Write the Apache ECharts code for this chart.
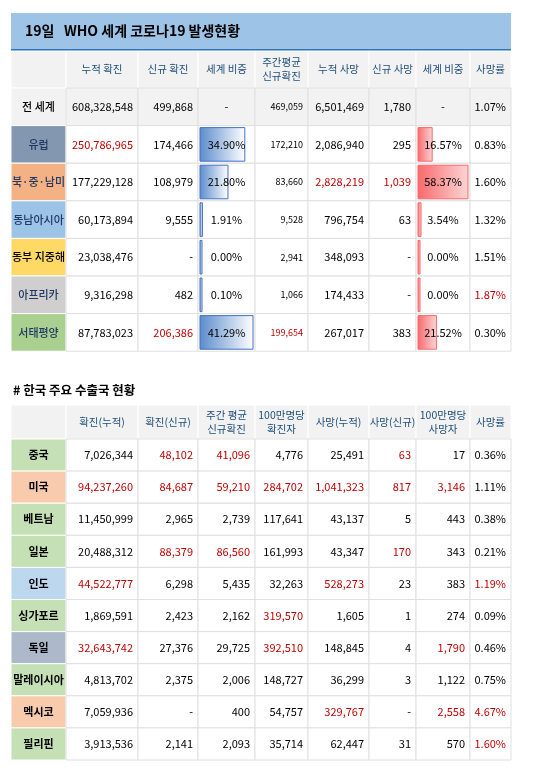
<!DOCTYPE html><html><head><meta charset="utf-8">
<script src="https://cdn.jsdelivr.net/npm/echarts@6/dist/echarts.min.js"></script>
<style>html,body{margin:0;padding:0;background:#fff}#c{width:550px;height:771px}</style></head><body><div id="c"></div>
<script>
// ---- Table 1 data ----
const title1 = "19일   WHO 세계 코로나19 발생현황";
const head1 = ["", "누적 확진", "신규 확진", "세계 비중", "주간평균\n신규확진", "누적 사망", "신규 사망", "세계 비중", "사망률"];
const regions = ["전 세계", "유럽", "북·중·남미", "동남아시아", "동부 지중해", "아프리카", "서태평양"];
const cumConf = ["608,328,548", "250,786,965", "177,229,128", "60,173,894", "23,038,476", "9,316,298", "87,783,023"];
const newConf = ["499,868", "174,466", "108,979", "9,555", "-", "482", "206,386"];
const confShare = ["-", "34.90%", "21.80%", "1.91%", "0.00%", "0.10%", "41.29%"];
const weeklyAvg = ["469,059", "172,210", "83,660", "9,528", "2,941", "1,066", "199,654"];
const cumDeath = ["6,501,469", "2,086,940", "2,828,219", "796,754", "348,093", "174,433", "267,017"];
const newDeath = ["1,780", "295", "1,039", "63", "-", "-", "383"];
const deathShare = ["-", "16.57%", "58.37%", "3.54%", "0.00%", "0.00%", "21.52%"];
const cfr1 = ["1.07%", "0.83%", "1.60%", "1.32%", "1.51%", "1.87%", "0.30%"];
const red1 = [[], [1], [5, 6], [], [], [8], [2, 4]];
// ---- Table 2 data ----
const title2 = "# 한국 주요 수출국 현황";
const head2 = ["", "확진(누적)", "확진(신규)", "주간 평균\n신규확진", "100만명당\n확진자", "사망(누적)", "사망(신규)", "100만명당\n사망자", "사망률"];
const countries = ["중국", "미국", "베트남", "일본", "인도", "싱가포르", "독일", "말레이시아", "멕시코", "필리핀"];
const c_cum = ["7,026,344", "94,237,260", "11,450,999", "20,488,312", "44,522,777", "1,869,591", "32,643,742", "4,813,702", "7,059,936", "3,913,536"];
const c_new = ["48,102", "84,687", "2,965", "88,379", "6,298", "2,423", "27,376", "2,375", "-", "2,141"];
const c_week = ["41,096", "59,210", "2,739", "86,560", "5,435", "2,162", "29,725", "2,006", "400", "2,093"];
const c_perM = ["4,776", "284,702", "117,641", "161,993", "32,263", "319,570", "392,510", "148,727", "54,757", "35,714"];
const c_death = ["25,491", "1,041,323", "43,137", "43,347", "528,273", "1,605", "148,845", "36,299", "329,767", "62,447"];
const c_dnew = ["63", "817", "5", "170", "23", "1", "4", "3", "-", "31"];
const c_dperM = ["17", "3,146", "443", "343", "383", "274", "1,790", "1,122", "2,558", "570"];
const c_cfr = ["0.36%", "1.11%", "0.38%", "0.21%", "1.19%", "0.09%", "0.46%", "0.75%", "4.67%", "1.60%"];
const red2 = [[2, 3, 6], [1, 2, 3, 4, 5, 6, 7], [], [2, 3, 6], [1, 5, 8], [4], [1, 4, 7], [], [5, 7, 8], [8]];

// ---- layout / style (not data) ----
const colEdges = [11, 66, 138, 198, 255, 308, 369, 416, 470, 511];
const regionFill = ["#f2f2f2", "#8497b0", "#f4b183", "#9dc3e6", "#ffd966", "#d0cece", "#a9d08e"];
const countryFill = ["#c5e0b4", "#f8cbad", "#c5e0b4", "#c5e0b4", "#bdd7ee", "#c5e0b4", "#adb9ca", "#c5e0b4", "#f8cbad", "#c5e0b4"];
const RED = "#c00000", HEAD = "#1f4e79", TXT = "#000";
const FONT = '"Noto Sans CJK KR", "Noto Sans", sans-serif';

const cells = [];
function add(c) { cells.push(c); }
add({ x0: 11, x1: 511, y0: 13, y1: 49, fill: "#9dc3e6", text: title1, color: "#000", size: 14, weight: "bold", align: "left", pad: 14 });
add({ x0: 11, x1: 511, y0: 49, y1: 51, fill: "#2e75b6" });
function table(y0, hh, rh, head, labels, cols, fills, reds, opts) {
  for (let c = 0; c < 9; c++) add({ x0: colEdges[c], x1: colEdges[c + 1], y0: y0, y1: y0 + hh, fill: "#f2f2f2", stroke: "#fff", text: head[c], color: HEAD, size: 10.5, align: "center", lh: 14 });
  labels.forEach((lab, r) => {
    const ry = y0 + hh + r * rh;
    const rowBg = (opts.firstGray && r === 0) ? "#f2f2f2" : "#fff";
    add({ x0: colEdges[0], x1: colEdges[1], y0: ry, y1: ry + rh, fill: fills[r], stroke: "#fff", text: lab, color: opts.labColor(r), size: 11, weight: opts.labWeight, align: "center" });
    for (let c = 1; c < 9; c++) {
      const col = cols[c - 1];
      const v = col.arr[r];
      const cell = { x0: colEdges[c], x1: colEdges[c + 1], y0: ry, y1: ry + rh, fill: rowBg, stroke: "#e0e0e0", text: v,
        color: reds[r].includes(c) ? RED : TXT, size: col.size || 11, align: col.align || "right", pad: 5 };
      if (col.bar && v !== "-") {
        const max = Math.max(...col.arr.filter(s => s !== "-").map(parseFloat));
        cell.bar = { frac: parseFloat(v) / max, kind: col.bar };
      }
      add(cell);
    }
  });
}
table(51, 37, 37.6, head1, regions, [
  { arr: cumConf }, { arr: newConf }, { arr: confShare, align: "center", bar: "blue" }, { arr: weeklyAvg, size: 9 },
  { arr: cumDeath }, { arr: newDeath }, { arr: deathShare, align: "center", bar: "red" }, { arr: cfr1 }
], regionFill, red1, { firstGray: true, labWeight: "500", labColor: r => r === 0 ? "#000" : (r === 4 ? "#000" : "#1f3864") });
add({ x0: 11, x1: 300, y0: 380, y1: 400, text: title2, color: "#000", size: 12.5, weight: "bold", align: "left", pad: 2 });
table(405, 34, 32.1, head2, countries, [
  { arr: c_cum }, { arr: c_new }, { arr: c_week }, { arr: c_perM }, { arr: c_death }, { arr: c_dnew }, { arr: c_dperM }, { arr: c_cfr }
], countryFill, red2, { firstGray: false, labWeight: "bold", labColor: r => "#000" });

const chart = echarts.init(document.getElementById("c"), null, { renderer: "canvas" });
chart.setOption({
  animation: false,
  grid: { left: 0, top: 0, width: 550, height: 771 },
  xAxis: { type: "value", min: 0, max: 550, show: false },
  yAxis: { type: "value", min: 0, max: 771, inverse: true, show: false },
  series: [{
    type: "custom", coordinateSystem: "cartesian2d",
    data: cells.map((c, i) => [c.x0, c.y0, c.x1, c.y1, i]),
    renderItem: function (params, api) {
      const c = cells[api.value(4)];
      const p0 = api.coord([api.value(0), api.value(1)]);
      const p1 = api.coord([api.value(2), api.value(3)]);
      const w = p1[0] - p0[0], h = p1[1] - p0[1];
      const ch = [];
      if (c.fill) ch.push({ type: "rect", shape: { x: p0[0], y: p0[1], width: w, height: h }, style: { fill: c.fill, stroke: c.stroke || null, lineWidth: 1 } });
      if (c.bar) {
        const bw = Math.max(2, (w - 4) * c.bar.frac);
        const grad = c.bar.kind === "blue"
          ? new echarts.graphic.LinearGradient(0, 0, 1, 0, [{ offset: 0, color: "#5b8ccc" }, { offset: 1, color: "#ffffff" }])
          : new echarts.graphic.LinearGradient(0, 0, 1, 0, [{ offset: 0, color: "#f8696b" }, { offset: 1, color: "#fcd6d7" }]);
        ch.push({ type: "rect", shape: { x: p0[0] + 2, y: p0[1] + 2, width: bw, height: h - 4 },
          style: { fill: grad, stroke: c.bar.kind === "blue" ? "#4472c4" : "#f8696b", lineWidth: 1 } });
      }
      if (c.text) {
        let tx = p0[0] + w / 2, ta = "center";
        if (c.align === "right") { tx = p1[0] - (c.pad || 5); ta = "right"; }
        if (c.align === "left") { tx = p0[0] + (c.pad || 5); ta = "left"; }
        ch.push({ type: "text", style: { x: tx, y: p0[1] + h / 2, text: c.text, align: ta, verticalAlign: "middle",
          fill: c.color, font: (c.weight || "normal") + " " + c.size + "px " + FONT, lineHeight: c.lh || c.size * 1.3 } });
      }
      return { type: "group", children: ch };
    }
  }]
});
</script></body></html>
